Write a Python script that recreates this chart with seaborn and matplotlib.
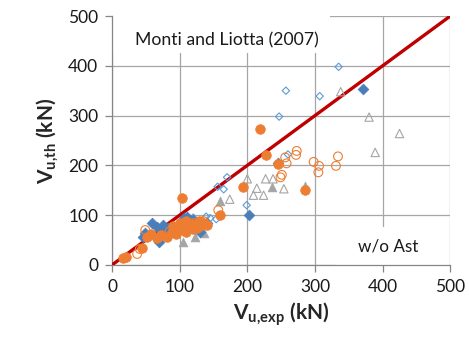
import matplotlib
matplotlib.use("Agg")
import matplotlib.pyplot as plt
import matplotlib.patches as mpatches
import seaborn as sns
import pandas as pd

sns.set_style("white")
plt.rcParams["font.family"] = ["Lato", "DejaVu Sans"]
plt.rcParams["mathtext.fontset"] = "custom"
plt.rcParams["mathtext.rm"] = "Lato"
plt.rcParams["mathtext.bf"] = "Lato:bold"

# --- data (kN) ---
blue_fill_x = [46, 49, 59, 66, 69, 74, 76, 83, 86, 106, 111, 120, 130, 140, 203, 246, 371]
blue_fill_y = [57, 64, 84, 77, 47, 70, 80, 74, 64, 94, 97, 90, 66, 84, 100, 205, 354]

blue_open_x = [335, 257, 307, 247, 260, 199, 156, 165, 170, 139, 145, 154, 66, 100, 110, 120, 130]
blue_open_y = [398, 350, 339, 298, 222, 120, 157, 152, 176, 97, 94, 92, 50, 85, 92, 95, 88]

gray_fill_x = [236, 159, 105, 122, 136, 285]
gray_fill_y = [156, 129, 45, 56, 65, 158]

gray_open_x = [338, 380, 425, 389, 254, 200, 227, 238, 214, 209, 224, 174]
gray_open_y = [348, 297, 264, 226, 153, 173, 173, 173, 154, 140, 140, 132]

orange_open_x = [273, 272, 256, 258, 298, 306, 305, 334, 331, 251, 249, 157, 37, 41, 49, 85, 100, 112, 120, 135]
orange_open_y = [229, 221, 216, 204, 207, 199, 186, 218, 199, 181, 176, 110, 22, 32, 70, 67, 72, 80, 84, 88]

orange_fill_x = [218, 228, 246, 194, 285, 160, 103, 21, 16, 44,
                 51, 58, 66, 72, 81, 88, 95, 100, 105, 110, 115, 120, 125, 130, 135, 140,
                 90, 100, 110, 118, 128]
orange_fill_y = [273, 221, 202, 157, 151, 100, 135, 15, 14, 33,
                 57, 62, 54, 60, 57, 66, 63, 75, 70, 67, 80, 72, 74, 78, 84, 80,
                 78, 85, 88, 82, 88]

line_x = [0, 500]
line_y = [0, 500]

BLUE = "#4A7EBB"
LBLUE = "#5B9BD5"
ORANGE = "#ED7D31"
GRAY = "#A5A5A5"
RED = "#C00000"

fig = plt.figure(figsize=(4.69, 3.49), dpi=100)
ax = fig.add_axes([0.239, 0.241, 0.721, 0.713])

sns.lineplot(x=line_x, y=line_y, color=RED, linewidth=2.4, ax=ax, zorder=3)

sns.scatterplot(x=gray_open_x, y=gray_open_y, marker="^", s=36, facecolor="none",
                edgecolor=GRAY, linewidth=0.8, ax=ax, zorder=4)
sns.scatterplot(x=gray_fill_x, y=gray_fill_y, marker="^", s=40, color=GRAY,
                edgecolor=GRAY, linewidth=0.5, ax=ax, zorder=4)
sns.scatterplot(x=blue_open_x, y=blue_open_y, marker="D", s=14, facecolor="none",
                edgecolor=LBLUE, linewidth=0.8, ax=ax, zorder=5)
sns.scatterplot(x=blue_fill_x, y=blue_fill_y, marker="D", s=30, color=BLUE,
                edgecolor=BLUE, linewidth=0.5, ax=ax, zorder=5)
sns.scatterplot(x=orange_open_x, y=orange_open_y, marker="o", s=40, facecolor="none",
                edgecolor=ORANGE, linewidth=0.8, ax=ax, zorder=6)
sns.scatterplot(x=orange_fill_x, y=orange_fill_y, marker="o", s=48, color=ORANGE,
                edgecolor=ORANGE, linewidth=0.5, ax=ax, zorder=6)

ax.set_xlim(0, 500)
ax.set_ylim(0, 500)
ax.set_xticks(range(0, 501, 100))
ax.set_yticks(range(0, 501, 100))
ax.grid(True, color="#A6A6A6", linewidth=0.9, zorder=0)
ax.set_axisbelow(True)
for side in ["top", "right"]:
    ax.spines[side].set_visible(False)
for side in ["left", "bottom"]:
    ax.spines[side].set_color("#868686")
    ax.spines[side].set_linewidth(0.9)
ax.tick_params(axis="both", which="major", direction="out", length=5, width=0.9,
               color="#868686", labelsize=12.5, labelcolor="#1a1a1a", pad=5)
ax.tick_params(bottom=True, left=True)

# white label boxes covering the grid
ax.add_patch(mpatches.Rectangle((0.0, 0.851), 0.645, 0.149, transform=ax.transAxes,
                                facecolor="white", edgecolor="none", zorder=1))
ax.add_patch(mpatches.Rectangle((0.66, 0.0), 0.335, 0.153, transform=ax.transAxes,
                                facecolor="white", edgecolor="none", zorder=1))
ax.text(34, 452, "Monti and Liotta (2007)", fontsize=12.7, va="center", ha="left",
        color="#1a1a1a", zorder=2)
ax.text(364, 36, "w/o Ast", fontsize=12.3, va="center", ha="left",
        color="#1a1a1a", zorder=2)

ax.set_xlabel(r"$\mathbf{V_{u,\!exp}}$ (kN)", fontsize=15, fontweight="bold", labelpad=4)
ax.set_ylabel(r"$\mathbf{V_{u,\!th}}$ (kN)", fontsize=15, fontweight="bold", labelpad=6)

fig.savefig("out.png", dpi=100)
